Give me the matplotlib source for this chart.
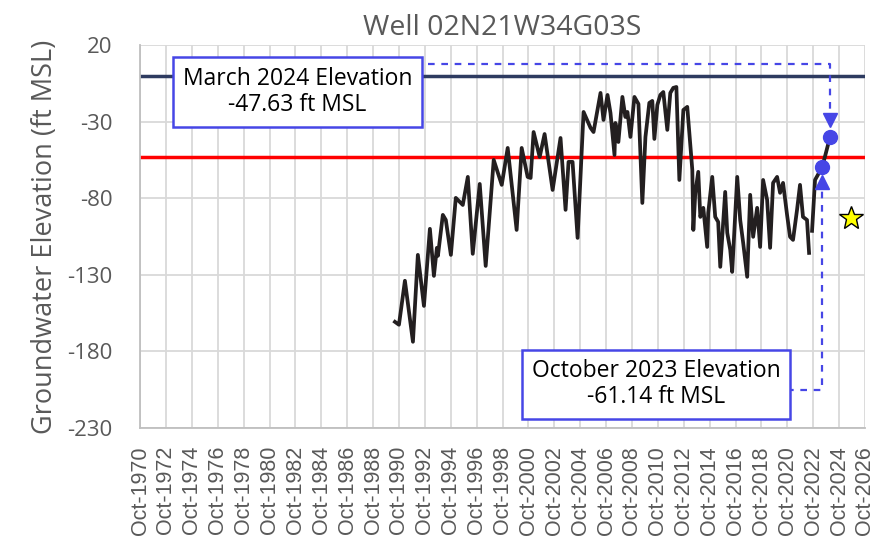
import matplotlib
matplotlib.use("Agg")
import matplotlib.pyplot as plt
import numpy as np

# groundwater record, decimal years and ft MSL
years = [1990.44, 1990.75, 1991.21, 1991.83, 1992.21, 1992.68, 1993.14, 1993.45, 1993.68, 1993.76,
         1994.14, 1994.37, 1994.76, 1995.14, 1995.68, 1996.07, 1996.45, 1996.99, 1997.45, 1998.07,
         1998.69, 1999.15, 1999.84, 2000.23, 2000.69, 2000.92, 2001.15, 2001.62, 2002.00, 2002.62,
         2003.23, 2003.62, 2003.85, 2004.16, 2004.55, 2005.01, 2005.55, 2005.78, 2006.32, 2006.55,
         2006.86, 2007.09, 2007.40, 2007.47, 2007.70, 2008.01, 2008.24, 2008.40, 2008.63, 2008.94,
         2009.25, 2009.55, 2009.79, 2010.09, 2010.32, 2010.48, 2010.71, 2010.94, 2011.17, 2011.48,
         2011.71, 2011.94, 2012.18, 2012.41, 2012.72, 2013.02, 2013.41, 2013.49, 2013.64, 2013.87,
         2014.03, 2014.26, 2014.56, 2014.64, 2014.95, 2015.18, 2015.41, 2015.57, 2015.95, 2016.11,
         2016.34, 2016.49, 2016.88, 2017.11, 2017.34, 2017.65, 2017.88, 2018.11, 2018.42, 2018.65,
         2018.88, 2019.19, 2019.42, 2019.65, 2019.96, 2020.19, 2020.42, 2020.73, 2020.96, 2021.19,
         2021.50, 2021.73, 2021.96, 2022.27, 2022.43]
elev = [-160.7, -162.6, -133.9, -173.7, -117.0, -150.3, -100.0, -130.7, -112.4, -117.6,
        -90.9, -94.2, -117.0, -79.8, -84.4, -66.1, -116.3, -70.7, -124.2, -55.0,
        -71.3, -47.2, -100.7, -47.2, -66.1, -66.8, -36.8, -53.1, -38.1, -74.6,
        -40.7, -87.6, -56.3, -56.3, -105.9, -23.7, -34.1, -36.8, -11.3, -28.9,
        -12.6, -24.4, -51.8, -30.9, -43.3, -13.9, -27.0, -23.7, -40.0, -13.9,
        -18.5, -83.1, -40.0, -17.8, -16.5, -41.3, -19.1, -12.6, -10.7, -35.4,
        -11.3, -8.0, -7.4, -68.1, -22.4, -20.4, -61.5, -100.7, -76.5, -62.8,
        -92.2, -86.3, -111.8, -89.6, -66.1, -92.2, -95.5, -124.8, -75.9, -102.6,
        -113.7, -128.1, -66.1, -94.2, -109.2, -131.3, -77.8, -105.2, -86.3, -111.8,
        -68.1, -81.1, -112.4, -70.0, -66.1, -76.5, -70.0, -90.9, -105.2, -107.2,
        -87.6, -71.3, -92.2, -94.2, -115.7]

# latest readings leading into the two highlighted points
recent_years = [2022.66, 2022.89, 2023.45, 2024.05]
recent_elev = [-101.3, -68.1, -59.6, -40.0]

ref_top = 0.0        # navy reference line
ref_mid = -53.0      # red reference line
star_year, star_elev = 2025.66, -92.9

tick_years = list(range(1970, 2027, 2))
tick_labels = ["Oct-%d" % y for y in tick_years]

gray = "#595959"
blue = "#4646E6"

fig = plt.figure(figsize=(8.96, 5.44), dpi=100)
ax = fig.add_axes([0.1563, 0.2132, 0.8091, 0.7041])

ax.set_xlim(1970.75, 2026.75)
ax.set_ylim(-230, 20)
ax.set_xticks([y + 0.75 for y in tick_years])
ax.set_xticklabels(tick_labels, rotation=90, fontsize=15.5,
                   family="Liberation Sans", color=gray)
ax.set_yticks(np.arange(-230, 21, 50))
ax.set_yticklabels([str(v) for v in np.arange(-230, 21, 50)],
                   fontsize=16, family="Open Sans", color=gray)
ax.tick_params(axis="x", length=0, pad=13)
ax.tick_params(axis="y", length=0, pad=20)
ax.grid(True, color="#d9d9d9", lw=1.3)
ax.set_axisbelow(True)
for s in ["top", "right"]:
    ax.spines[s].set_visible(False)
for s in ["left", "bottom"]:
    ax.spines[s].set_color("#bfbfbf")
    ax.spines[s].set_linewidth(1.3)

ax.axhline(ref_top, color="#2E3B60", lw=2.5, zorder=2)
ax.axhline(ref_mid, color="#FF0000", lw=2.5, zorder=2)

ax.plot(years, elev, color="#231F20", lw=2.7, solid_joinstyle="round", zorder=3)
ax.plot(recent_years, recent_elev, color="#231F20", lw=2.7, zorder=3)
ax.plot(recent_years[2:], recent_elev[2:], "o", color=blue, ms=10, zorder=4)
ax.plot([star_year], [star_elev], marker="*", color="#FFFF00", mec="black",
        mew=1.0, ms=18, zorder=4)

# dashed leaders from the boxes to the highlighted points
mar_x, mar_y = recent_years[3], recent_elev[3]
oct_x, oct_y = recent_years[2], recent_elev[2]
ax.plot([1992.99, mar_x, mar_x], [7.6, 7.6, mar_y + 11], ls=(0, (3, 3)),
        color=blue, lw=1.6, zorder=3)
ax.plot([mar_x], [mar_y + 11], marker="v", color=blue, ms=10, zorder=4)
ax.plot([2020.73, oct_x, oct_x], [-205, -205, oct_y - 10], ls=(0, (3, 3)),
        color=blue, lw=1.6, zorder=3)
ax.plot([oct_x], [oct_y - 10], marker="^", color=blue, ms=10, zorder=4)

box = dict(boxstyle="square,pad=0.42", fc="white", ec=blue, lw=1.8)
ax.text(1982.9, -10.7, "March 2024 Elevation\n-47.63 ft MSL", ha="center",
        va="center", fontsize=16.5, family="Open Sans", bbox=box, zorder=5,
        linespacing=1.1)
ax.text(2010.63, -201.5, "October 2023 Elevation\n-61.14 ft MSL", ha="center",
        va="center", fontsize=16.5, family="Open Sans", bbox=box, zorder=5,
        linespacing=1.1)

ax.set_title("Well 02N21W34G03S", fontsize=20.5, family="Open Sans",
             color=gray, pad=7)
ax.set_ylabel("Groundwater Elevation (ft MSL)", fontsize=19.5,
              family="Open Sans", color=gray, labelpad=6)

fig.savefig("out.png", dpi=100)
